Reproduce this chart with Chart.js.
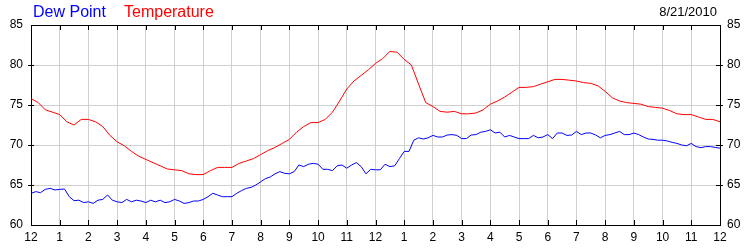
<!DOCTYPE html>
<html>
<head>
<meta charset="utf-8">
<script src="https://cdn.jsdelivr.net/npm/chart.js@4"></script>
<style>
html,body{margin:0;padding:0;background:#fff;}
canvas{display:block;}
</style>
</head>
<body>
<canvas id="c" width="750" height="250"></canvas>
<script>
// Hour labels (12 AM ... 12 AM)
const hourLabels = ["12","1","2","3","4","5","6","7","8","9","10","11","12","1","2","3","4","5","6","7","8","9","10","11","12"];
// Temperature sample times in hours (every 15 min)
const tempHours = [0,0.25,0.5,0.75,1,1.25,1.5,1.75,2,2.25,2.5,2.75,3,3.25,3.5,3.75,4,4.25,4.5,4.75,5,5.25,5.5,5.75,6,6.25,6.5,6.75,7,7.25,7.5,7.75,8,8.25,8.5,8.75,9,9.25,9.5,9.75,10,10.25,10.5,10.75,11,11.25,11.5,11.75,12,12.25,12.5,12.75,13,13.25,13.5,13.75,14,14.25,14.5,14.75,15,15.25,15.5,15.75,16,16.25,16.5,16.75,17,17.25,17.5,17.75,18,18.25,18.5,18.75,19,19.25,19.5,19.75,20,20.25,20.5,20.75,21,21.25,21.5,21.75,22,22.25,22.5,22.75,23,23.25,23.5,23.75,24];
const temperature = [75.8,75.3,74.4,74.1,73.8,72.9,72.5,73.2,73.2,72.9,72.3,71.2,70.4,69.9,69.2,68.6,68.2,67.8,67.4,67.0,66.9,66.8,66.4,66.3,66.3,66.8,67.2,67.2,67.2,67.7,68.0,68.3,68.8,69.3,69.7,70.2,70.7,71.6,72.3,72.8,72.8,73.2,74.1,75.5,77.0,78.0,78.7,79.4,80.2,80.8,81.7,81.6,80.7,80.0,77.6,75.3,74.8,74.2,74.1,74.2,73.9,73.9,74.0,74.4,75.1,75.5,76.0,76.6,77.2,77.2,77.3,77.6,77.9,78.2,78.2,78.1,78.0,77.8,77.7,77.4,76.7,75.9,75.5,75.3,75.2,75.1,74.8,74.7,74.6,74.3,73.9,73.8,73.8,73.5,73.2,73.2,72.9];
// Dew point sample times in hours (every 10 min)
const dewHours = [0,0.167,0.333,0.5,0.667,0.833,1,1.167,1.333,1.5,1.667,1.833,2,2.167,2.333,2.5,2.667,2.833,3,3.167,3.333,3.5,3.667,3.833,4,4.167,4.333,4.5,4.667,4.833,5,5.167,5.333,5.5,5.667,5.833,6,6.167,6.333,6.5,6.667,6.833,7,7.167,7.333,7.5,7.667,7.833,8,8.167,8.333,8.5,8.667,8.833,9,9.167,9.333,9.5,9.667,9.833,10,10.167,10.333,10.5,10.667,10.833,11,11.167,11.333,11.5,11.667,11.833,12,12.167,12.333,12.5,12.667,12.833,13,13.167,13.333,13.5,13.667,13.833,14,14.167,14.333,14.5,14.667,14.833,15,15.167,15.333,15.5,15.667,15.833,16,16.167,16.333,16.5,16.667,16.833,17,17.167,17.333,17.5,17.667,17.833,18,18.167,18.333,18.5,18.667,18.833,19,19.167,19.333,19.5,19.667,19.833,20,20.167,20.333,20.5,20.667,20.833,21,21.167,21.333,21.5,21.667,21.833,22,22.167,22.333,22.5,22.667,22.833,23,23.167,23.333,23.5,23.667,23.833,24];
const dewPoint = [63.96,64.17,64.04,64.46,64.58,64.38,64.45,64.5,63.54,63.04,63.1,62.8,62.9,62.7,63.1,63.2,63.75,63.1,62.9,62.8,63.2,62.9,63.1,63.0,62.8,63.1,62.9,63.1,62.8,62.9,63.2,63.0,62.7,62.8,63.0,63.0,63.2,63.54,63.96,63.75,63.54,63.54,63.54,63.96,64.3,64.58,64.7,65.0,65.4,65.8,66.0,66.4,66.67,66.46,66.4,66.67,67.5,67.3,67.6,67.7,67.6,66.96,66.96,66.8,67.4,67.5,67.1,67.5,67.8,67.3,66.4,66.96,66.9,66.9,67.6,67.3,67.4,68.3,69.2,69.2,70.6,70.9,70.75,70.9,71.2,71.0,71.0,71.25,71.3,71.2,70.8,70.8,71.25,71.3,71.6,71.7,71.9,71.5,71.6,71.0,71.2,71.0,70.8,70.8,70.8,71.2,70.9,71.0,71.3,70.8,71.5,71.5,71.2,71.25,71.7,71.3,71.5,71.5,71.25,70.9,71.2,71.3,71.5,71.7,71.3,71.3,71.5,71.3,71.0,70.75,70.7,70.6,70.6,70.5,70.33,70.2,70.0,69.9,70.2,69.8,69.67,69.8,69.8,69.7,69.6];
const yMin = 60, yMax = 85, yStep = 5;
const dateText = "8/21/2010";
const seriesNames = ["Dew Point", "Temperature"];
const seriesColors = ["#0000ff", "#ff0000"];

const toXY = (hours, vals) => vals.map((v, i) => ({x: hours[i], y: v}));

const framePlugin = {
  id: 'frame',
  afterDraw(chart) {
    const {ctx, chartArea: a, scales} = chart;
    ctx.save();
    ctx.strokeStyle = '#000';
    ctx.lineWidth = 1;
    ctx.beginPath();
    ctx.moveTo(a.left, Math.round(a.top) + 0.5);
    ctx.lineTo(a.right + 1, Math.round(a.top) + 0.5);
    for (let h = 1; h < hourLabels.length - 1; h++) {
      const px = Math.round(scales.x.getPixelForValue(h)) + 0.5;
      ctx.moveTo(px, a.top); ctx.lineTo(px, a.top + 5);
      ctx.moveTo(px, a.bottom); ctx.lineTo(px, a.bottom - 5);
    }
    for (let v = yMin + yStep; v < yMax; v += yStep) {
      const py = Math.round(scales.y.getPixelForValue(v)) + 0.5;
      ctx.moveTo(a.left - 3, py); ctx.lineTo(a.left + 3, py);
      ctx.moveTo(a.right - 4, py); ctx.lineTo(a.right + 3, py);
    }
    ctx.stroke();
    ctx.textBaseline = 'alphabetic';
    ctx.font = '16px "Liberation Sans", Arial, sans-serif';
    ctx.textAlign = 'left';
    ctx.fillStyle = seriesColors[0];
    ctx.fillText(seriesNames[0], 33, 17);
    ctx.fillStyle = seriesColors[1];
    ctx.fillText(seriesNames[1], 124, 17);
    ctx.font = '13px "Liberation Sans", Arial, sans-serif';
    ctx.fillStyle = '#000';
    ctx.textAlign = 'right';
    ctx.fillText(dateText, 717, 16);
    ctx.restore();
  }
};

const tickFont = {family: '"Liberation Sans", Arial, sans-serif', size: 12};

new Chart(document.getElementById('c'), {
  type: 'line',
  data: {
    datasets: [
      {label: seriesNames[1], data: toXY(tempHours, temperature), borderColor: seriesColors[1], borderWidth: 1, pointRadius: 0, tension: 0, fill: false, yAxisID: 'y'},
      {label: seriesNames[0], data: toXY(dewHours, dewPoint), borderColor: seriesColors[0], borderWidth: 1, pointRadius: 0, tension: 0, fill: false, yAxisID: 'y'}
    ]
  },
  options: {
    responsive: false,
    animation: false,
    devicePixelRatio: 1,
    layout: {padding: {top: 25, left: 0, right: 0, bottom: 0}},
    plugins: {legend: {display: false}, tooltip: {enabled: false}, title: {display: false}},
    scales: {
      x: {
        type: 'linear', min: 0, max: 24,
        afterFit(s) { s.height = 25; },
        afterBuildTicks(s) { s.ticks = hourLabels.map((_, i) => ({value: i})); },
        ticks: {stepSize: 1, autoSkip: false, maxRotation: 0, padding: 5, color: '#000', font: tickFont,
          callback: (v) => hourLabels[v]},
        grid: {color: '#d0d0d0', drawTicks: false},
        border: {color: '#000', width: 1}
      },
      y: {
        type: 'linear', position: 'left', min: yMin, max: yMax,
        afterFit(s) { s.width = 31; },
        ticks: {stepSize: yStep, padding: 8, color: '#000', font: tickFont},
        grid: {color: '#d0d0d0', drawTicks: false},
        border: {color: '#000', width: 1}
      },
      y2: {
        type: 'linear', position: 'right', min: yMin, max: yMax,
        afterFit(s) { s.width = 30; },
        ticks: {stepSize: yStep, padding: 7, color: '#000', font: tickFont},
        grid: {display: false, drawTicks: false},
        border: {color: '#000', width: 1}
      }
    }
  },
  plugins: [framePlugin]
});
</script>
</body>
</html>
